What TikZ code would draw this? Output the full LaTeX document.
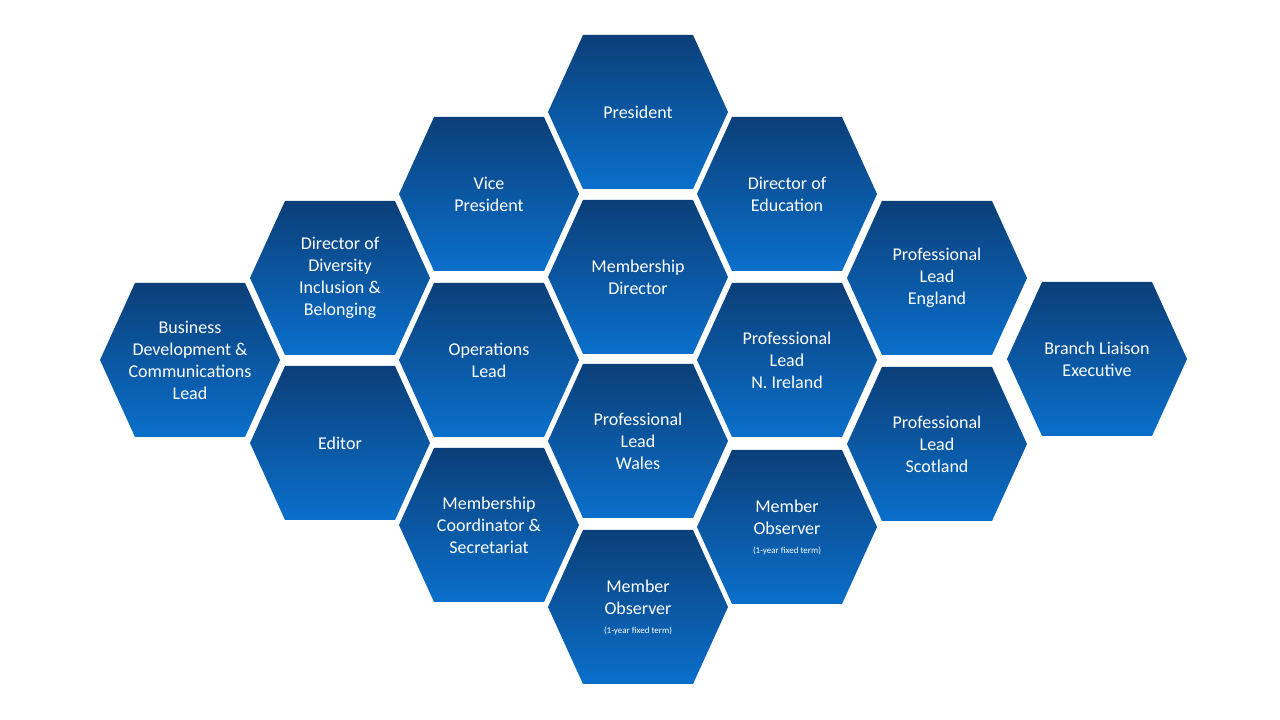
\documentclass[tikz,border=0pt]{standalone}
\usepackage{fontspec}
\setmainfont{Carlito}
\definecolor{hextop}{HTML}{0B3F78}
\definecolor{hexbot}{HTML}{0A6FCB}
\tikzset{hexlabel/.style={text=white,align=center,font=\fontsize{18}{22}\selectfont}}
\newcommand{\hexcell}[4]{%
  \shade[top color=hextop,bottom color=hexbot,draw=none]
    (#1-90,#2) -- (#1-55,#2+77) -- (#1+55,#2+77) -- (#1+90,#2) -- (#1+55,#2-77) -- (#1-55,#2-77) -- cycle;
  \node[hexlabel] (#3) at (#1,#2) {#4};}
\begin{document}
\begin{tikzpicture}[x=1pt,y=1pt]
\useasboundingbox (0,0) rectangle (1280,720);
\fill[white] (0,0) rectangle (1280,720);
\hexcell{638}{608}{pres}{President}
\hexcell{638}{443}{memdir}{Membership\\Director}
\hexcell{638}{279}{wales}{Professional\\Lead\\Wales}
\hexcell{638}{113}{obs1}{Member\\Observer\\[-3pt]{\fontsize{9}{10}\selectfont(1-year fixed term)}}
\hexcell{489}{526}{vp}{Vice\\President}
\hexcell{489}{360}{ops}{Operations\\Lead}
\hexcell{489}{195}{coord}{Membership\\Coordinator \&\\Secretariat}
\hexcell{787}{526}{edu}{Director of\\Education}
\hexcell{787}{360}{ni}{Professional\\Lead\\N. Ireland}
\hexcell{787}{193}{obs2}{Member\\Observer\\[-3pt]{\fontsize{9}{10}\selectfont(1-year fixed term)}}
\hexcell{340}{442}{div}{Director of\\Diversity\\Inclusion \&\\Belonging}
\hexcell{340}{277}{editor}{Editor}
\hexcell{937}{442}{eng}{Professional\\Lead\\England}
\hexcell{937}{276}{scot}{Professional\\Lead\\Scotland}
\hexcell{190}{360}{bus}{Business\\Development \&\\Communications\\Lead}
\hexcell{1097}{361}{branch}{Branch Liaison\\Executive}
\end{tikzpicture}
\end{document}
